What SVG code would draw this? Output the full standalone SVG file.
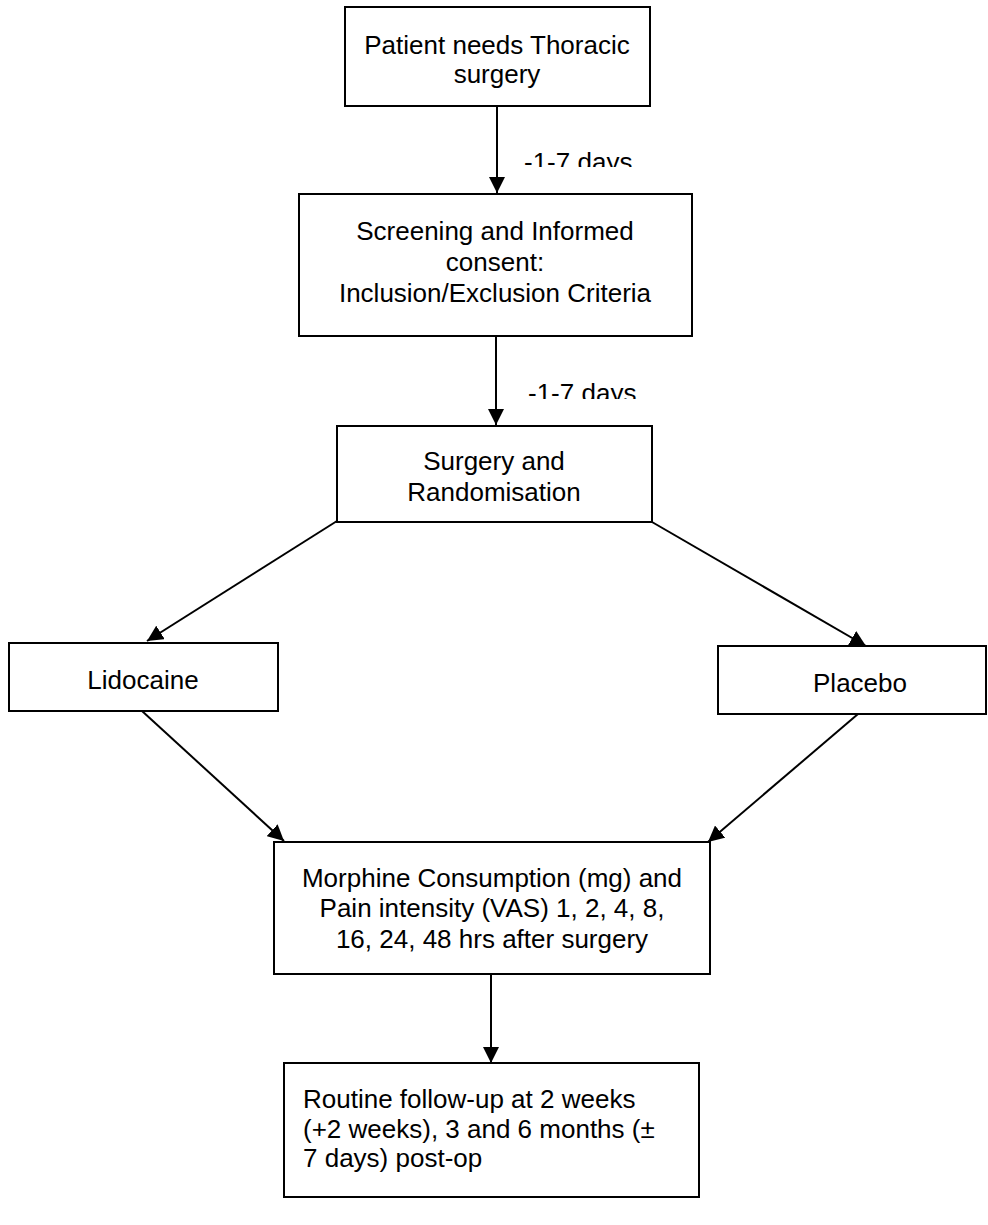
<svg xmlns="http://www.w3.org/2000/svg" width="988" height="1225" viewBox="0 0 988 1225">
<style>
.box{fill:#fff;stroke:#000;stroke-width:2}
.t{font-family:"Liberation Sans",Arial,sans-serif;font-size:26px;fill:#000}
.c{text-anchor:middle}
.ln{stroke:#000;stroke-width:2;fill:none}
</style>
<defs>
<marker id="ah" markerWidth="16" markerHeight="16" refX="16" refY="8" orient="auto" markerUnits="userSpaceOnUse" viewBox="0 0 16 16">
<path d="M0,0 L16,8 L0,16 z" fill="#000"/>
</marker>
<clipPath id="clip1"><rect x="500" y="140" width="200" height="27"/></clipPath>
<clipPath id="clip2"><rect x="500" y="370" width="200" height="29"/></clipPath>
</defs>
<rect width="988" height="1225" fill="#fff"/>
<g id="connectors">
<line class="ln" x1="497" y1="106" x2="497" y2="193" marker-end="url(#ah)"/>
<line class="ln" x1="496" y1="336" x2="496" y2="425" marker-end="url(#ah)"/>
<line class="ln" x1="337" y1="521" x2="147" y2="641" marker-end="url(#ah)"/>
<line class="ln" x1="652" y1="522" x2="866" y2="646" marker-end="url(#ah)"/>
<line class="ln" x1="142" y1="711" x2="284" y2="841" marker-end="url(#ah)"/>
<line class="ln" x1="858" y1="714" x2="708" y2="842" marker-end="url(#ah)"/>
<line class="ln" x1="491" y1="974" x2="491" y2="1063" marker-end="url(#ah)"/>
<text class="t" x="524" y="171" clip-path="url(#clip1)">-1-7 days</text>
<text class="t" x="528" y="402" clip-path="url(#clip2)">-1-7 days</text>
</g>
<g id="n1">
<rect class="box" x="345" y="7" width="305" height="99"/>
<text class="t c" x="497" y="54">Patient needs Thoracic</text>
<text class="t c" x="497" y="83">surgery</text>
</g>
<g id="n2">
<rect class="box" x="299" y="194" width="393" height="142"/>
<text class="t c" x="495" y="240">Screening and Informed</text>
<text class="t c" x="495" y="271">consent:</text>
<text class="t c" x="495" y="302">Inclusion/Exclusion Criteria</text>
</g>
<g id="n3">
<rect class="box" x="337" y="426" width="315" height="96"/>
<text class="t c" x="494" y="470">Surgery and</text>
<text class="t c" x="494" y="501">Randomisation</text>
</g>
<g id="n4">
<rect class="box" x="9" y="643" width="269" height="68"/>
<text class="t c" x="143" y="689">Lidocaine</text>
</g>
<g id="n5">
<rect class="box" x="718" y="646" width="268" height="68"/>
<text class="t c" x="860" y="692">Placebo</text>
</g>
<g id="n6">
<rect class="box" x="274" y="842" width="436" height="132"/>
<text class="t c" x="492" y="887">Morphine Consumption (mg) and</text>
<text class="t c" x="492" y="917">Pain intensity (VAS) 1, 2, 4, 8,</text>
<text class="t c" x="492" y="948">16, 24, 48 hrs after surgery</text>
</g>
<g id="n7">
<rect class="box" x="284" y="1063" width="415" height="134"/>
<text class="t" x="303" y="1108">Routine follow-up at 2 weeks</text>
<text class="t" x="303" y="1138">(+2 weeks), 3 and 6 months (±</text>
<text class="t" x="303" y="1167">7 days) post-op</text>
</g>
</svg>
